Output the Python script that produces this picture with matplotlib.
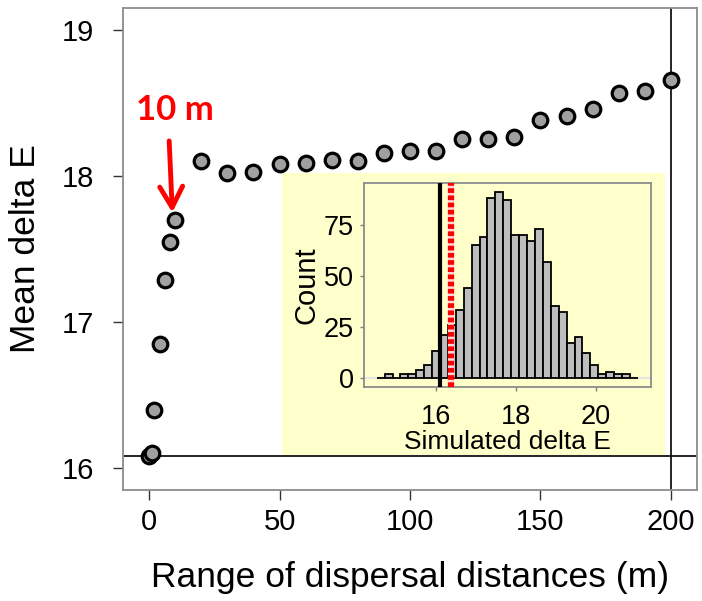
import matplotlib
matplotlib.use("Agg")
import matplotlib.pyplot as plt
from matplotlib.patches import Rectangle
import numpy as np

plt.rcParams["font.family"] = ["Liberation Sans", "DejaVu Sans"]

# main panel: mean delta E against dispersal range
dispersal_m = [0, 1, 2, 4, 6, 8, 10, 20, 30, 40, 50, 60, 70, 80, 90, 100,
               110, 120, 130, 140, 150, 160, 170, 180, 190, 200]
mean_delta_e = [16.08, 16.10, 16.40, 16.85, 17.29, 17.55, 17.70, 18.10, 18.02,
                18.03, 18.08, 18.09, 18.11, 18.10, 18.16, 18.17, 18.17, 18.25,
                18.25, 18.27, 18.38, 18.41, 18.46, 18.57, 18.58, 18.66]
observed_e = 16.08
max_range = 200

# inset: histogram of simulated delta E
hist_start = 14.53
hist_width = 0.1976
hist_counts = [0, 2, 0, 2, 2, 4, 6, 13, 21, 26, 33, 44, 65, 69, 88, 91, 87,
               70, 70, 67, 73, 57, 35, 32, 17, 20, 12, 6, 2, 3, 2, 2, 0]
sim_observed = 16.11
sim_mean_line = 16.39

W, H = 702, 601
fig = plt.figure(figsize=(W / 100, H / 100), dpi=100)
ax = fig.add_axes([123 / W, 1 - 490 / H, (697 - 123) / W, (490 - 8) / H])

ax.plot(dispersal_m, mean_delta_e, "o", ms=10.5, mfc="#a0a0a0", mec="black",
        mew=2.3, zorder=3)
ax.axhline(observed_e, color="black", lw=1.2, zorder=2)
ax.axvline(max_range, color="black", lw=1.2, zorder=2)

ax.set_xlim(-10, 210)
ax.set_ylim(15.85, 19.15)
ax.set_xticks([0, 50, 100, 150, 200])
ax.set_yticks([16, 17, 18, 19])
ax.tick_params(axis="both", direction="out", length=7, width=1,
               color="#333333", labelsize=21)
ax.tick_params(axis="y", pad=14)
ax.tick_params(axis="x", pad=6)
for s in ax.spines.values():
    s.set_color("#8c8c8c")
    s.set_linewidth(1.3)
ax.set_xlabel("Range of dispersal distances (m)", fontsize=25.5, labelpad=18)
ax.set_ylabel("Mean delta E", fontsize=25.5, labelpad=14)

# pale yellow backdrop for the inset
ax.add_patch(Rectangle((282 / W, 1 - 455 / H), 383 / W, 282 / H,
                       transform=fig.transFigure, facecolor="#ffffcc",
                       edgecolor="none", zorder=1.5, clip_on=False))

# 10 m callout
ax.annotate("", xy=(8.9, 17.75), xytext=(7.7, 18.24),
            arrowprops=dict(arrowstyle="->,head_length=0.6,head_width=0.33",
                            color="#ff0000", lw=3.5, mutation_scale=25,
                            shrinkA=0, shrinkB=0), zorder=4)
ax.text(10, 18.45, "10 m", color="#ff0000", fontsize=25, fontweight="bold",
        family=["Lato", "DejaVu Sans"], ha="center", va="center", zorder=4)

# inset histogram
axin = fig.add_axes([363.5 / W, 1 - 387 / H, 287.5 / W, 204 / H])
axin.set_facecolor("none")
edges = hist_start + hist_width * np.arange(len(hist_counts) + 1)
axin.axhline(0, color="#e4e4e4", lw=1.5, zorder=0.5)
axin.bar(edges[:-1], hist_counts, width=hist_width, align="edge",
         color="#bebebe", edgecolor="black", lw=1.3, zorder=1)
axin.axvline(sim_observed, color="black", lw=3, zorder=3)
axin.axvline(sim_mean_line, color="#ffd6d6", lw=4.5, zorder=3)
axin.axvline(sim_mean_line, color="#ff0000", lw=4.5, ls=(0, (0.75, 0.4)),
             zorder=4)

axin.set_xlim(14.2, 21.38)
axin.set_ylim(-4.55, 95.5)
axin.set_xticks([16, 18, 20])
axin.set_yticks([0, 25, 50, 75])
axin.tick_params(axis="both", direction="out", length=3, width=1,
                 color="#7f7f7f", labelsize=19.5)
axin.tick_params(axis="x", pad=9)
axin.tick_params(axis="y", pad=4)
for s in axin.spines.values():
    s.set_color("#8c8c8c")
    s.set_linewidth(1.3)
axin.set_xlabel("Simulated delta E", fontsize=19, labelpad=0)
axin.set_ylabel("Count", fontsize=21, labelpad=2)

fig.savefig("out.png", dpi=100)
